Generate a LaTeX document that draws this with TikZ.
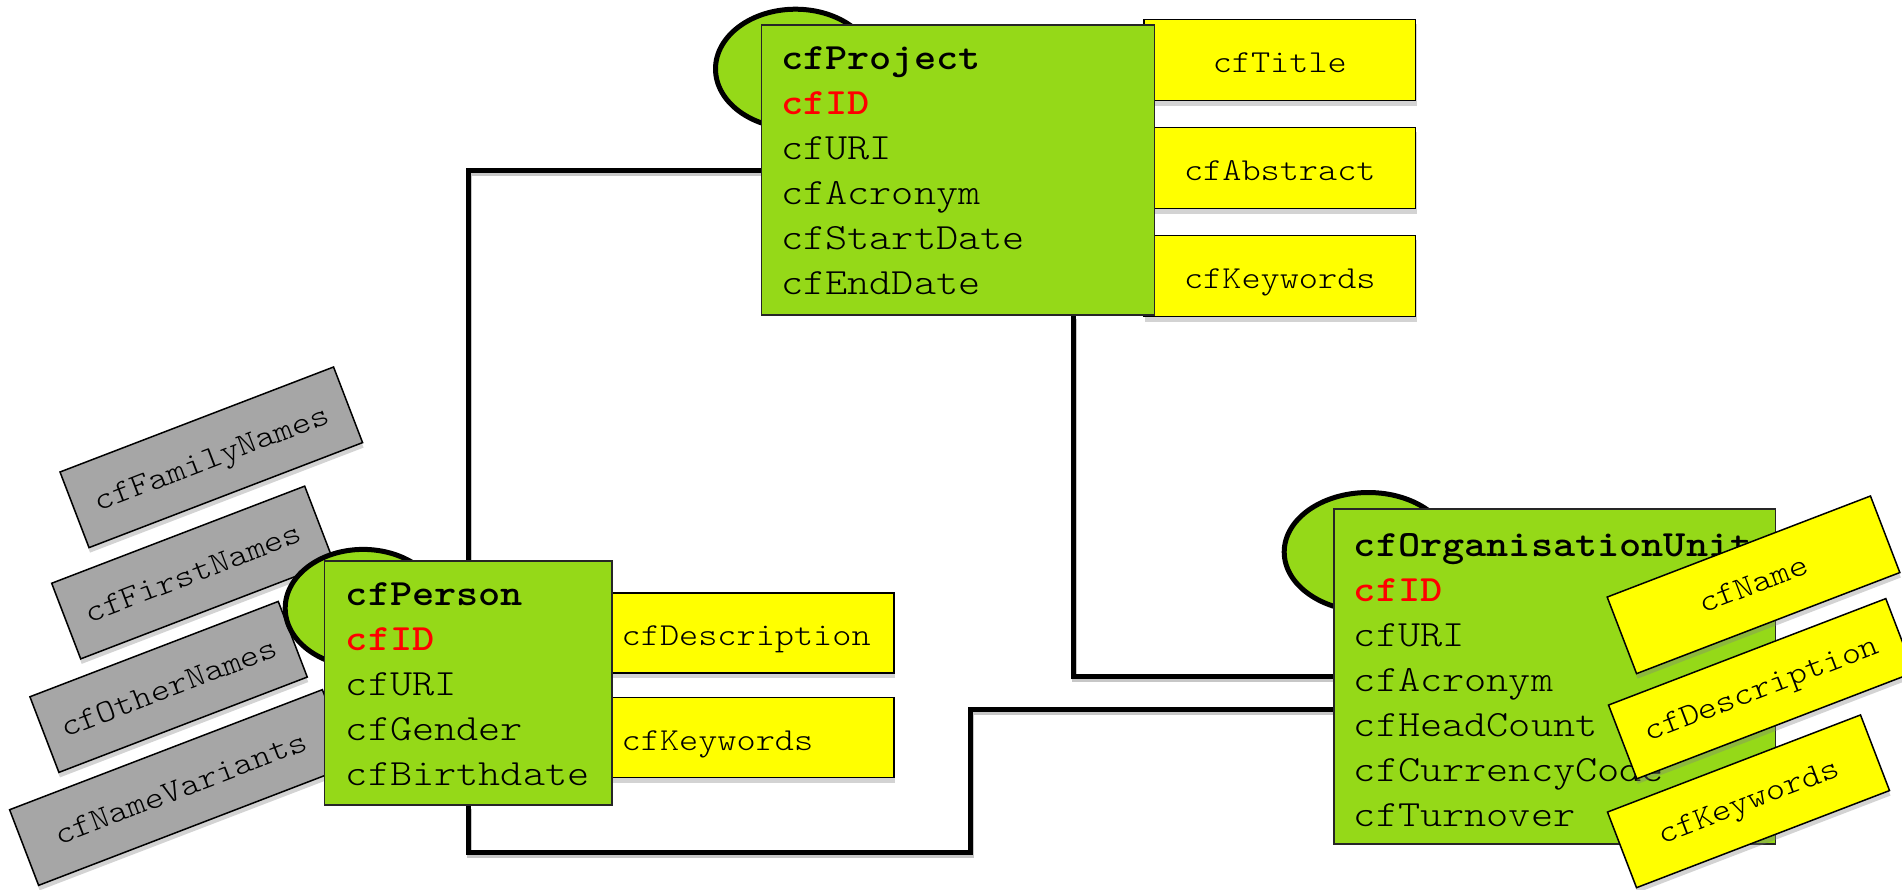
\documentclass[tikz,border=0pt]{standalone}
\usepackage{fontspec}
\newfontfamily\cour{lmmonolt10-regular.otf}[BoldFont=lmmonolt10-bold.otf, FakeStretch=1.14]
\usetikzlibrary{shadows,shapes.geometric}
\definecolor{grn}{RGB}{149,217,24}
\definecolor{ylw}{RGB}{255,255,0}
\definecolor{gry}{RGB}{166,166,166}
\definecolor{rd}{RGB}{255,0,0}
\tikzset{
  conn/.style={line width=5pt, black, line join=miter,
    preaction={draw=black!22, line width=5pt, transform canvas={xshift=1pt, yshift=-3pt}}},
  entbox/.style={draw=black!85, line width=1.5pt, fill=grn, rectangle, inner sep=0pt, anchor=north west},
  entell/.style={draw=black, line width=5pt, fill=grn, ellipse, inner sep=0pt},
  fld/.style={font=\cour\fontsize{37}{44}\selectfont, anchor=base west, inner sep=0pt},
  ttl/.style={fld, font=\cour\bfseries\fontsize{37}{44}\selectfont},
  idf/.style={fld, text=rd, font=\cour\bfseries\fontsize{37}{44}\selectfont},
  shad/.style={drop shadow={opacity=0.35, shadow xshift=1pt, shadow yshift=-5pt}},
  attr/.style={draw=black, line width=1.5pt, fill=ylw, rectangle, inner sep=0pt,
    font=\cour\fontsize{32}{36}\selectfont, shad, text height=25pt, text depth=0pt},
  rattr/.style={attr, rotate=21, text height=18pt},
  gattr/.style={attr, fill=gry, rotate=21, text height=21pt},
}
\begin{document}
\begin{tikzpicture}[x=1pt,y=-1pt]
\useasboundingbox (0,0) rectangle (1902,889);
% connectors drawn under boxes
\node[entbox, minimum width=393pt, minimum height=290pt, draw=none, fill=none] (projG) at (760.5,24.3) {};
\node[entbox, minimum width=287.5pt, minimum height=243.8pt, draw=none, fill=none] (persG) at (323.9,560.4) {};
\node[entbox, minimum width=441.6pt, minimum height=334.8pt, draw=none, fill=none] (orgG) at (1333,508.2) {};
\coordinate (pj) at ([xshift=-81.3pt]projG.south east);
\coordinate (po1) at (970.4,852.7);
\coordinate (po2) at ([yshift=-32.8pt]orgG.west);
\draw[conn] (projG.west) -| (persG.north);
\draw[conn] (pj) |- (orgG.west);
\draw[conn] (persG.south) |- (po1) |- (po2);
% gray attributes of cfPerson
\node[gattr, minimum width=293pt, minimum height=81pt] (fam) at (211.3,457.3) {cfFamilyNames};
\node[gattr, minimum width=271pt, minimum height=81pt] (fst) at (192.7,572.5) {cfFirstNames};
\node[gattr, minimum width=266pt, minimum height=81pt] (oth) at (168.6,686.9) {cfOtherNames};
\node[gattr, minimum width=335pt, minimum height=81pt] (var) at (180.5,787.5) {cfNameVariants};
% yellow attributes of cfProject
\node[attr, minimum width=271.6pt, minimum height=81.3pt] (ptit) at (1279.8,60) {cfTitle};
\node[attr, minimum width=271.6pt, minimum height=81.3pt] (pabs) at (1279.8,168) {cfAbstract};
\node[attr, minimum width=271.6pt, minimum height=81.3pt] (pkey) at (1279.8,276) {cfKeywords};
% yellow attributes of cfPerson
\node[attr, minimum width=282.6pt, minimum height=80pt, text width=262pt, align=left, inner xsep=10pt] (pdesc) at (752.7,633.2) {cfDescription};
\node[attr, minimum width=282.6pt, minimum height=80pt, text width=262pt, align=left, inner xsep=10pt] (pkw) at (752.7,737.5) {cfKeywords};
% ellipses
\node[entell, minimum width=160pt, minimum height=119.4pt] (projE) at (795.5,68.9) {};
\node[entell, minimum width=156pt, minimum height=117.6pt] (persE) at (363.2,608.2) {};
\node[entell, minimum width=168pt, minimum height=119pt] (orgE) at (1368.2,552) {};
% entity boxes
\node[entbox, minimum width=393pt, minimum height=290pt] (proj) at (760.5,24.3) {};
\node[entbox, minimum width=287.5pt, minimum height=243.8pt] (pers) at (323.9,560.4) {};
\node[entbox, minimum width=441.6pt, minimum height=334.8pt] (org) at (1333,508.2) {};
% cfProject fields
\node[ttl] (pr1) at (781,69) {cfProject};
\node[idf] (pr2) at (781,114) {cfID};
\node[fld] (pr3) at (781,159) {cfURI};
\node[fld] (pr4) at (781,204) {cfAcronym};
\node[fld] (pr5) at (781,249) {cfStartDate};
\node[fld] (pr6) at (781,294) {cfEndDate};
% cfPerson fields
\node[ttl] (pe1) at (345.7,605) {cfPerson};
\node[idf] (pe2) at (345.7,650) {cfID};
\node[fld] (pe3) at (345.7,695) {cfURI};
\node[fld] (pe4) at (345.7,740) {cfGender};
\node[fld] (pe5) at (345.7,785) {cfBirthdate};
% cfOrganisationUnit fields
\node[ttl] (o1) at (1353.7,556) {cfOrganisationUnit};
\node[idf] (o2) at (1353.7,601) {cfID};
\node[fld] (o3) at (1353.7,646) {cfURI};
\node[fld] (o4) at (1353.7,691) {cfAcronym};
\node[fld] (o5) at (1353.7,736) {cfHeadCount};
\node[fld] (o6) at (1353.7,781) {cfCurrencyCode};
\node[fld] (o7) at (1353.7,826) {cfTurnover};
% rotated yellow attributes of cfOrganisationUnit
\node[rattr, minimum width=282pt, minimum height=82pt] (oname) at (1753.5,584.8) {cfName};
\node[rattr, minimum width=297pt, minimum height=79pt] (odesc) at (1761.3,688.7) {cfDescription};
\node[rattr, minimum width=271pt, minimum height=81pt] (okw) at (1748.5,801.3) {cfKeywords};
\end{tikzpicture}
\end{document}
